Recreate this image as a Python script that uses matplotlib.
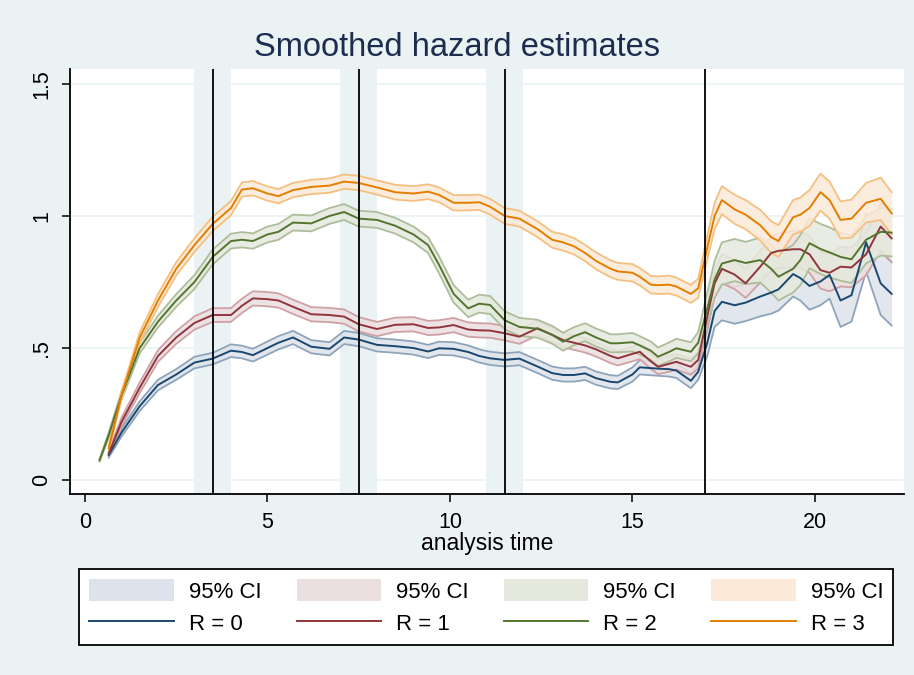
import numpy as np
import matplotlib.pyplot as plt
from matplotlib.patches import Patch
from matplotlib.lines import Line2D

plt.rcParams['font.family'] = ['Liberation Sans', 'DejaVu Sans']

nan = np.nan

# analysis time grid
t = [0.4, 0.65, 1.0, 1.5, 2.0, 2.5, 3.0, 3.5, 4.0, 4.3, 4.6, 5.0, 5.3, 5.7, 6.2, 6.7,
     7.1, 7.5, 8.0, 8.5, 9.0, 9.4, 9.7, 10.1, 10.5, 10.8, 11.1, 11.5, 11.9, 12.4, 12.8,
     13.1, 13.4, 13.7, 14.0, 14.4, 14.6, 15.0, 15.2, 15.5, 15.7, 16.0, 16.2, 16.6, 16.8,
     17.05, 17.25, 17.45, 17.8, 18.1, 18.5, 18.8, 19.0, 19.4, 19.6, 19.85, 20.15, 20.4,
     20.7, 21.0, 21.4, 21.8, 22.1]

# smoothed hazard, R = 0..3
h0 = [nan, 0.095, 0.18, 0.28, 0.36, 0.40, 0.445, 0.46, 0.49, 0.485, 0.473, 0.50, 0.52, 0.54,
      0.505, 0.497, 0.54, 0.532, 0.512, 0.507, 0.50, 0.487, 0.499, 0.497, 0.485, 0.47, 0.461,
      0.455, 0.46, 0.43, 0.405, 0.398, 0.398, 0.404, 0.386, 0.372, 0.37, 0.40, 0.427, 0.424,
      0.422, 0.42, 0.415, 0.376, 0.41, 0.52, 0.64, 0.675, 0.662, 0.672, 0.695, 0.71, 0.722,
      0.78, 0.765, 0.735, 0.752, 0.777, 0.68, 0.70, 0.90, 0.745, 0.705]
h1 = [nan, 0.10, 0.22, 0.35, 0.47, 0.54, 0.595, 0.625, 0.625, 0.66, 0.688, 0.685, 0.68, 0.656,
      0.628, 0.625, 0.619, 0.59, 0.572, 0.588, 0.59, 0.576, 0.578, 0.587, 0.57, 0.567, 0.566,
      0.556, 0.543, 0.575, 0.55, 0.53, 0.52, 0.51, 0.495, 0.47, 0.461, 0.478, 0.486, 0.45,
      0.429, 0.44, 0.448, 0.429, 0.455, 0.62, 0.745, 0.80, 0.778, 0.745, 0.808, 0.86, 0.868,
      0.874, 0.874, 0.855, 0.795, 0.785, 0.808, 0.805, 0.855, 0.96, 0.915]
h2 = [0.075, 0.17, 0.32, 0.50, 0.60, 0.68, 0.75, 0.845, 0.905, 0.91, 0.905, 0.93, 0.94, 0.975,
      0.972, 1.0, 1.015, 0.99, 0.985, 0.963, 0.93, 0.89, 0.815, 0.705, 0.65, 0.668, 0.663,
      0.605, 0.58, 0.573, 0.55, 0.524, 0.545, 0.56, 0.54, 0.518, 0.518, 0.522, 0.51, 0.49,
      0.467, 0.485, 0.499, 0.486, 0.52, 0.65, 0.76, 0.82, 0.833, 0.822, 0.833, 0.80, 0.77,
      0.80, 0.833, 0.897, 0.875, 0.862, 0.845, 0.836, 0.91, 0.94, 0.937]
h3 = [nan, 0.12, 0.32, 0.54, 0.68, 0.80, 0.89, 0.97, 1.03, 1.10, 1.105, 1.085, 1.075, 1.098,
      1.11, 1.115, 1.13, 1.125, 1.108, 1.09, 1.085, 1.092, 1.08, 1.05, 1.05, 1.052, 1.035,
      1.0, 0.99, 0.95, 0.91, 0.90, 0.885, 0.86, 0.83, 0.80, 0.79, 0.785, 0.77, 0.74, 0.738,
      0.74, 0.733, 0.705, 0.726, 0.88, 1.0, 1.06, 1.025, 1.005, 0.965, 0.92, 0.905, 0.995,
      1.005, 1.03, 1.09, 1.06, 0.985, 0.99, 1.05, 1.065, 1.01]

# half width of the 95% CI bands
w0 = [nan, 0.01, 0.015, 0.018, 0.02, 0.02, 0.022, 0.022, 0.024, 0.024, 0.024, 0.025, 0.025,
      0.025, 0.025, 0.025, 0.025, 0.025, 0.025, 0.025, 0.025, 0.025, 0.025, 0.025, 0.025,
      0.025, 0.025, 0.025, 0.025, 0.025, 0.025, 0.025, 0.025, 0.025, 0.025, 0.025, 0.025,
      0.027, 0.027, 0.027, 0.027, 0.028, 0.028, 0.028, 0.03, 0.05, 0.06, 0.07, 0.07, 0.07,
      0.075, 0.08, 0.08, 0.085, 0.085, 0.09, 0.09, 0.09, 0.1, 0.1, 0.11, 0.12, 0.12]
w1 = [nan, 0.01, 0.016, 0.02, 0.022, 0.024, 0.025, 0.026, 0.026, 0.027, 0.027, 0.027, 0.027,
      0.027, 0.027, 0.027, 0.027, 0.027, 0.027, 0.027, 0.027, 0.027, 0.027, 0.027, 0.027,
      0.027, 0.027, 0.027, 0.027, 0.027, 0.027, 0.027, 0.027, 0.027, 0.027, 0.027, 0.027,
      0.028, 0.028, 0.028, 0.028, 0.03, 0.03, 0.03, 0.032, 0.045, 0.05, 0.055, 0.055, 0.055,
      0.06, 0.065, 0.065, 0.07, 0.07, 0.07, 0.07, 0.07, 0.075, 0.075, 0.08, 0.09, 0.09]
w2 = [0.005, 0.01, 0.016, 0.02, 0.022, 0.024, 0.026, 0.028, 0.028, 0.029, 0.029, 0.03, 0.03,
      0.03, 0.03, 0.03, 0.03, 0.03, 0.03, 0.03, 0.03, 0.03, 0.032, 0.033, 0.033, 0.034, 0.034,
      0.034, 0.034, 0.034, 0.034, 0.034, 0.034, 0.034, 0.034, 0.034, 0.034, 0.035, 0.035,
      0.035, 0.035, 0.036, 0.036, 0.036, 0.04, 0.06, 0.07, 0.08, 0.08, 0.08, 0.085, 0.09, 0.09,
      0.09, 0.095, 0.095, 0.095, 0.095, 0.09, 0.09, 0.09, 0.09, 0.09]
w3 = [nan, 0.01, 0.015, 0.02, 0.024, 0.025, 0.026, 0.027, 0.027, 0.027, 0.027, 0.027, 0.027,
      0.027, 0.027, 0.027, 0.027, 0.027, 0.027, 0.028, 0.028, 0.028, 0.028, 0.029, 0.029,
      0.029, 0.03, 0.03, 0.03, 0.03, 0.03, 0.031, 0.031, 0.031, 0.032, 0.032, 0.032, 0.033,
      0.033, 0.033, 0.033, 0.034, 0.034, 0.034, 0.036, 0.045, 0.05, 0.053, 0.055, 0.055, 0.058,
      0.06, 0.06, 0.065, 0.065, 0.068, 0.07, 0.07, 0.07, 0.072, 0.075, 0.08, 0.08]

labels = ['R = 0', 'R = 1', 'R = 2', 'R = 3']
line_cols = ['#1a476f', '#90353b', '#55752f', '#e37e00']
fill_cols = ['#dde3ea', '#ecdfe0', '#e5e9dd', '#fbead8']
edge_cols = ['#8ea4bb', '#cfa1a5', '#adbd9b', '#f5bf80']

band_lo = [3, 7, 11]
band_hi = [4, 8, 12]
vlines = [3.5, 7.5, 11.5, 17]

bg = '#eaf2f3'

fig = plt.figure(figsize=(9.14, 6.75), dpi=100, facecolor=bg)
ax = fig.add_axes([0.0766, 0.268, 0.9125, 0.630])
ax.set_facecolor('white')

ax.set_xlim(-0.41, 22.44)
ax.set_ylim(-0.053, 1.557)

for y in [0, 0.5, 1, 1.5]:
    ax.axhline(y, color=bg, lw=1.2, zorder=0)
for a, b in zip(band_lo, band_hi):
    ax.axvspan(a, b, color=bg, lw=0, zorder=0.5)

tt = np.array(t)
series = [(h0, w0), (h1, w1), (h2, w2), (h3, w3)]
for i, (h, w) in enumerate(series):
    h = np.array(h)
    w = np.array(w)
    ax.fill_between(tt, h - w, h + w, color=fill_cols[i], alpha=0.85, lw=0, zorder=1 + i * 0.1)
    ax.plot(tt, h - w, color=edge_cols[i], lw=1.3, zorder=1.05 + i * 0.1)
    ax.plot(tt, h + w, color=edge_cols[i], lw=1.3, zorder=1.05 + i * 0.1)
for i, (h, w) in enumerate(series):
    ax.plot(tt, h, color=line_cols[i], lw=1.4, zorder=3)

for v in vlines:
    ax.axvline(v, color='black', lw=1.3, zorder=4)

for s in ['top', 'right']:
    ax.spines[s].set_visible(False)
for s in ['left', 'bottom']:
    ax.spines[s].set_linewidth(1.3)

ax.set_xticks([0, 5, 10, 15, 20])
ax.set_yticks([0, 0.5, 1, 1.5])
ax.set_yticklabels(['0', '.5', '1', '1.5'], rotation=90, va='center')
ax.tick_params(axis='both', direction='out', length=6, width=1.1, labelsize=15.5, colors='black')
ax.tick_params(axis='y', pad=7)
ax.tick_params(axis='x', pad=7)
ax.set_xlabel('analysis time', fontsize=16.5, labelpad=-1)

fig.suptitle('Smoothed hazard estimates', fontsize=23.5, color='#1c2d4f', y=0.93, va='center')

handles = []
leg_labels = []
for i in range(4):
    handles.append(Patch(facecolor=fill_cols[i], edgecolor='none'))
    leg_labels.append('95% CI')
    handles.append(Line2D([0], [0], color=line_cols[i], lw=1.4))
    leg_labels.append(labels[i])

leg = fig.legend(handles, leg_labels, ncol=4, loc='center', bbox_to_anchor=(0.532, 0.1007),
                 fontsize=16, frameon=True, fancybox=False, edgecolor='black',
                 facecolor='white', framealpha=1,
                 handlelength=3.8, handleheight=1.08, handletextpad=0.68, columnspacing=1.58,
                 labelspacing=0.4, borderpad=0.45)
leg.get_frame().set_linewidth(1.3)

fig.savefig('out.png', dpi=100, facecolor=bg)
